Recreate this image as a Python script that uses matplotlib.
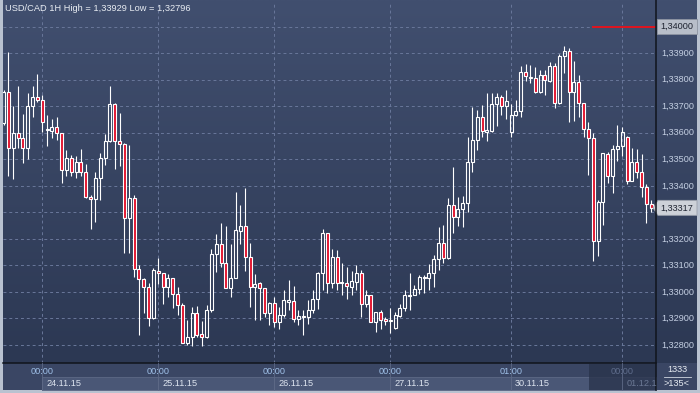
import matplotlib
matplotlib.use("Agg")
import matplotlib.pyplot as plt
import numpy as np
from matplotlib.patches import Rectangle, Polygon
from matplotlib.transforms import blended_transform_factory

# ---------------- data (USD/CAD hourly candles) ----------------
opens = [1.33635, 1.33755, 1.33541, 1.33598, 1.33579, 1.33541, 1.33701, 1.33733, 1.33723, 1.33610,
         1.33608, 1.33620, 1.33598, 1.33459, 1.33503, 1.33453, 1.33491, 1.33451, 1.33356, 1.33349,
         1.33428, 1.33503, 1.33569, 1.33708, 1.33570, 1.33557, 1.33277, 1.33353, 1.33085, 1.33047,
         1.33017, 1.32900, 1.33080, 1.33070, 1.33017, 1.33051, 1.32992, 1.32949, 1.32808, 1.32829,
         1.32921, 1.32840, 1.32829, 1.32932, 1.33143, 1.33180, 1.33108, 1.33013, 1.33051, 1.33230,
         1.33248, 1.33130, 1.33017, 1.33032, 1.33013, 1.32919, 1.32957, 1.32888, 1.32913, 1.32963,
         1.32966, 1.32896, 1.32906, 1.32904, 1.32932, 1.32972, 1.33072, 1.33221, 1.33035, 1.33132,
         1.33032, 1.33032, 1.33019, 1.33038, 1.33072, 1.32953, 1.32988, 1.32885, 1.32923, 1.32898,
         1.32891, 1.32863, 1.32909, 1.32938, 1.32984, 1.32988, 1.33010, 1.33057, 1.33051, 1.33070,
         1.33123, 1.33183, 1.33126, 1.33327, 1.33281, 1.33312, 1.33334, 1.33491, 1.33572, 1.33658,
         1.33604, 1.33608, 1.33708, 1.33733, 1.33701, 1.33604, 1.33667, 1.33683, 1.33830, 1.33811,
         1.33805, 1.33755, 1.33818, 1.33796, 1.33851, 1.33713, 1.33889, 1.33907, 1.33755, 1.33792,
         1.33713, 1.33613, 1.33579, 1.33193, 1.33340, 1.33519, 1.33438, 1.33537, 1.33549, 1.33583,
         1.33419, 1.33488, 1.33453, 1.33394, 1.33331]
highs = [1.33760, 1.33903, 1.33701, 1.33776, 1.33671, 1.33751, 1.33776, 1.33821, 1.33742, 1.33667,
         1.33651, 1.33658, 1.33600, 1.33535, 1.33516, 1.33512, 1.33539, 1.33481, 1.33365, 1.33453,
         1.33522, 1.33595, 1.33776, 1.33711, 1.33673, 1.33562, 1.33554, 1.33365, 1.33101, 1.33052,
         1.33032, 1.33089, 1.33126, 1.33070, 1.33067, 1.33051, 1.33017, 1.32959, 1.32894, 1.32944,
         1.32947, 1.32891, 1.32950, 1.33160, 1.33218, 1.33261, 1.33248, 1.33180, 1.33376, 1.33327,
         1.33390, 1.33183, 1.33067, 1.33038, 1.33013, 1.32963, 1.32982, 1.32944, 1.33006, 1.33045,
         1.33022, 1.32932, 1.32932, 1.32969, 1.33007, 1.33076, 1.33236, 1.33221, 1.33160, 1.33158,
         1.33108, 1.33095, 1.33079, 1.33101, 1.33082, 1.33007, 1.32988, 1.32925, 1.32932, 1.32906,
         1.32938, 1.32925, 1.32953, 1.33006, 1.33070, 1.33026, 1.33065, 1.33065, 1.33105, 1.33139,
         1.33243, 1.33252, 1.33353, 1.33472, 1.33359, 1.33361, 1.33585, 1.33698, 1.33686, 1.33704,
         1.33751, 1.33749, 1.33749, 1.33742, 1.33761, 1.33708, 1.33723, 1.33851, 1.33859, 1.33855,
         1.33847, 1.33836, 1.33836, 1.33868, 1.33862, 1.33897, 1.33929, 1.33918, 1.33870, 1.33818,
         1.33713, 1.33641, 1.33598, 1.33346, 1.33522, 1.33528, 1.33554, 1.33629, 1.33623, 1.33588,
         1.33541, 1.33539, 1.33520, 1.33407, 1.33346]
lows = [1.33630, 1.33438, 1.33424, 1.33541, 1.33487, 1.33500, 1.33660, 1.33717, 1.33604, 1.33550,
        1.33579, 1.33572, 1.33412, 1.33437, 1.33437, 1.33428, 1.33437, 1.33353, 1.33237, 1.33264,
        1.33346, 1.33478, 1.33565, 1.33462, 1.33474, 1.33148, 1.33145, 1.33057, 1.32837, 1.32919,
        1.32871, 1.32898, 1.33030, 1.32954, 1.32982, 1.32938, 1.32912, 1.32806, 1.32800, 1.32796,
        1.32831, 1.32797, 1.32825, 1.32925, 1.33076, 1.33095, 1.33013, 1.32979, 1.33051, 1.33180,
        1.33080, 1.32944, 1.32894, 1.32894, 1.32906, 1.32875, 1.32869, 1.32859, 1.32906, 1.32932,
        1.32888, 1.32875, 1.32837, 1.32879, 1.32919, 1.32934, 1.33006, 1.32997, 1.33013, 1.33007,
        1.32988, 1.32972, 1.32988, 1.33006, 1.32904, 1.32944, 1.32885, 1.32850, 1.32859, 1.32875,
        1.32844, 1.32859, 1.32906, 1.32929, 1.32932, 1.32988, 1.32992, 1.32995, 1.33006, 1.33019,
        1.33082, 1.33110, 1.33123, 1.33221, 1.33248, 1.33243, 1.33302, 1.33453, 1.33535, 1.33583,
        1.33570, 1.33604, 1.33625, 1.33667, 1.33651, 1.33585, 1.33663, 1.33660, 1.33796, 1.33789,
        1.33751, 1.33749, 1.33742, 1.33792, 1.33692, 1.33708, 1.33826, 1.33641, 1.33645, 1.33658,
        1.33585, 1.33441, 1.33117, 1.33135, 1.33252, 1.33412, 1.33374, 1.33494, 1.33512, 1.33407,
        1.33419, 1.33428, 1.33359, 1.33258, 1.33302]
closes = [1.33755, 1.33541, 1.33598, 1.33579, 1.33541, 1.33701, 1.33733, 1.33723, 1.33641, 1.33613,
          1.33620, 1.33598, 1.33459, 1.33503, 1.33453, 1.33491, 1.33451, 1.33356, 1.33349, 1.33428,
          1.33503, 1.33569, 1.33708, 1.33570, 1.33557, 1.33277, 1.33353, 1.33085, 1.33047, 1.33017,
          1.32900, 1.33082, 1.33070, 1.33017, 1.33051, 1.32992, 1.32949, 1.32808, 1.32829, 1.32921,
          1.32837, 1.32829, 1.32932, 1.33143, 1.33180, 1.33108, 1.33013, 1.33051, 1.33233, 1.33248,
          1.33130, 1.33017, 1.33030, 1.33013, 1.32919, 1.32957, 1.32888, 1.32913, 1.32969, 1.32969,
          1.32896, 1.32909, 1.32909, 1.32932, 1.32972, 1.33072, 1.33221, 1.33035, 1.33132, 1.33032,
          1.33038, 1.33022, 1.33042, 1.33072, 1.32953, 1.32988, 1.32885, 1.32923, 1.32894, 1.32890,
          1.32894, 1.32913, 1.32938, 1.32988, 1.32988, 1.33010, 1.33057, 1.33051, 1.33070, 1.33123,
          1.33183, 1.33126, 1.33327, 1.33281, 1.33312, 1.33334, 1.33491, 1.33572, 1.33658, 1.33608,
          1.33610, 1.33708, 1.33733, 1.33701, 1.33721, 1.33667, 1.33683, 1.33830, 1.33814, 1.33805,
          1.33755, 1.33818, 1.33799, 1.33851, 1.33713, 1.33889, 1.33907, 1.33755, 1.33792, 1.33713,
          1.33613, 1.33579, 1.33193, 1.33340, 1.33522, 1.33438, 1.33537, 1.33549, 1.33602, 1.33419,
          1.33488, 1.33453, 1.33394, 1.33331, 1.33317]

price_ticks = [1.328, 1.329, 1.330, 1.331, 1.332, 1.333, 1.334, 1.335, 1.336, 1.337, 1.338, 1.339]
grid_levels = price_ticks + [1.340]
day_index = [8, 32, 56, 80, 105, 128]
time_labels = ["00:00", "00:00", "00:00", "00:00", "01:00", "00:00"]
date_labels = ["24.11.15", "25.11.15", "26.11.15", "27.11.15", "30.11.15", "01.12.1"]
alert_level = 1.34000
alert_start = 121.7
title = "USD/CAD 1H High = 1,33929 Low = 1,32796"
bars_shown = ">135<"
corner_value = "1333"

FONT = ["Liberation Sans", "DejaVu Sans"]
plt.rcParams["font.family"] = FONT

W, H = 700, 393
fig = plt.figure(figsize=(7.0, 3.93), dpi=100)

# background / overlay axes in pixel coordinates
bg = fig.add_axes([0, 0, 1, 1], zorder=0)
bg.set_xlim(0, W); bg.set_ylim(H, 0); bg.axis("off")
top_col = np.array([0x41, 0x4f, 0x6f]) / 255
bot_col = np.array([0x2c, 0x38, 0x53]) / 255
t = np.linspace(0, 1, 256)[:, None, None]
grad = top_col * (1 - t) + bot_col * t
grad = np.repeat(grad, 2, axis=1)
bg.imshow(grad, extent=(0, W, 363, 0), aspect="auto", zorder=0, interpolation="bilinear")
# bottom band
bg.add_patch(Rectangle((0, 363), W, 30, facecolor="#3a4664", edgecolor="none", zorder=1))
# outer frame (left, right, bottom)
frame_col = "#b9c2d0"
bg.add_patch(Rectangle((0, 0), 2.5, H, facecolor=frame_col, edgecolor="none", zorder=6))
bg.add_patch(Rectangle((697, 0), 3, H, facecolor=frame_col, edgecolor="none", zorder=6))
bg.add_patch(Rectangle((0, 390), W, 3, facecolor=frame_col, edgecolor="none", zorder=6))

# main candle axes
x0p, x1p, y0p, y1p = 3, 656, 2, 363
ax = fig.add_axes([x0p / W, (H - y1p) / H, (x1p - x0p) / W, (y1p - y0p) / H], zorder=2)
ax.patch.set_alpha(0)
n = len(opens)
ax.set_xlim(-0.13, 134.98)
ax.set_ylim(1.32732, 1.34093)
ax.axis("off")

for lv in grid_levels:
    ax.axhline(lv, color="#69779a", lw=0.7, ls=(0, (3, 3)), zorder=1)
for d in day_index:
    ax.axvline(d, color="#69779a", lw=0.7, ls=(0, (3, 3)), zorder=1)

o = np.array(opens); h = np.array(highs); l = np.array(lows); c = np.array(closes)
idx = np.arange(n)
top = np.maximum(o, c); bot = np.minimum(o, c)
up = c >= o
ax.vlines(idx, top, h, color="white", lw=0.8, zorder=3)
ax.vlines(idx, l, bot, color="white", lw=0.8, zorder=3)
ax.bar(idx[up], (top - bot)[up], bottom=bot[up], width=0.62, facecolor="none",
       edgecolor="white", lw=0.8, zorder=4)
ax.bar(idx[~up], (top - bot)[~up], bottom=bot[~up], width=0.62, facecolor="#e2132d",
       edgecolor="white", lw=0.8, zorder=4)

# alert line
ax.hlines(alert_level, alert_start, 134.98, color="#e0141e", lw=1.4, zorder=5)

# overlay for decorations
ov = fig.add_axes([0, 0, 1, 1], zorder=3)
ov.set_xlim(0, W); ov.set_ylim(H, 0); ov.axis("off"); ov.patch.set_alpha(0)

# separators
ov.plot([3, 656], [363, 363], color="#10141c", lw=1.1)
ov.plot([656, 656], [0, 390], color="#10141c", lw=1.1)

ov.text(5, 8.5, title, color="#e9edf3", fontsize=6.7, va="center", ha="left")

# right axis labels (the one hidden behind the last-price tag is skipped)
lp = closes[-1]
ytr = blended_transform_factory(ov.transData, ax.transData)
for p in price_ticks:
    if abs(p - lp) < 0.0004:
        continue
    ov.text(661, p, f"{p:.5f}".replace(".", ","), transform=ytr, color="#c4cfe2",
            fontsize=6.6, va="center", ha="left")

# tag 1,34000
ov.add_patch(Rectangle((657, 19), 40, 15, facecolor="#b8bec9", edgecolor="#8d94a2", lw=0.6))
ov.text(660, alert_level, "1,34000", transform=ytr, color="#1e2330", fontsize=6.6,
        va="center", ha="left")
# last price tag
disp_y = ax.transData.transform((0, lp))[1]
py = ov.transData.inverted().transform((0, disp_y))[1]
ov.add_patch(Polygon([(653, py), (658, py - 7.5), (697, py - 7.5), (697, py + 7.5), (658, py + 7.5)],
                     closed=True, facecolor="#cdd1d8", edgecolor="#9aa0ab", lw=0.6))
ov.text(660, py, f"{lp:.5f}".replace(".", ","), color="#1e2330", fontsize=6.6,
        va="center", ha="left")

# bottom time axis
xtr = blended_transform_factory(ax.transData, ov.transData)
day_px = [ov.transData.inverted().transform(ax.transData.transform((d, 0)))[0] for d in day_index]
shade_x = 589
for k, d in enumerate(day_index):
    xs = day_px[k]
    xe = day_px[k + 1] if k + 1 < len(day_px) else 656
    ov.add_patch(Rectangle((xs, 377), xe - xs, 13, facecolor="#4a5776", edgecolor="#5d6986", lw=0.6))
    ov.plot([xs, xs], [363, 390], color="#5d6986", lw=0.6)
ov.add_patch(Rectangle((shade_x, 364), 656 - shade_x, 26, facecolor="#28324a", alpha=0.75,
                       edgecolor="none"))
for k, d in enumerate(day_index):
    dim = day_px[k] > shade_x
    ov.text(d, 371, time_labels[k], transform=xtr, color="#5f6d8c" if dim else "#9fc0e8",
            fontsize=6.6, ha="center", va="center")
    ov.text(day_px[k] + 4, 384, date_labels[k], color="#6b7894" if dim else "#dde4ef",
            fontsize=6.6, ha="left", va="center", clip_on=True)

# bottom-right corner box
ov.text(677, 370, corner_value, color="#e6ebf2", fontsize=6.6, ha="center", va="center")
ov.plot([664, 691], [377, 377], color="#d0d6e0", lw=0.6)
ov.text(677, 384, bars_shown, color="#e6ebf2", fontsize=6.6, ha="center", va="center")

fig.savefig("out.png", dpi=100)
